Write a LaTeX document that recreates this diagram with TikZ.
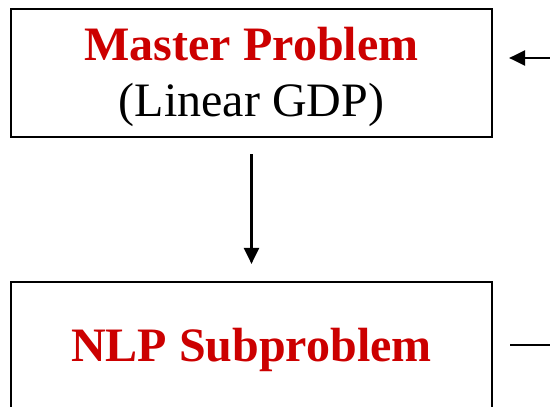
\documentclass[tikz,border=0pt]{standalone}
\usepackage{fontspec}
\setmainfont{Liberation Serif}
\usepackage{xcolor}
\usepackage{tikz}
\usetikzlibrary{arrows.meta, positioning, calc}
\definecolor{mydark}{RGB}{0,0,0}
\definecolor{myred}{RGB}{204,0,0}
\tikzset{
  block/.style={rectangle, draw=mydark, fill=white,
    minimum width=481pt, minimum height=128pt, line width=2.2pt, inner sep=0pt},
  blocktext/.style={align=center, font=\fontsize{48}{56}\selectfont, yshift=-4pt},
  arrow/.style={-{Triangle[length=16pt,width=15pt]}, line width=2.2pt, color=mydark},
  line/.style={line width=2.2pt, color=mydark}
}

\begin{document}
\begin{tikzpicture}[x=1pt, y=1pt]
    \useasboundingbox (0,0) rectangle (550,407);
    \clip (0,0) rectangle (550,407);

    % Master problem
    \node[block, label={[blocktext]center:{\bfseries\color{myred}Master Problem}\\(Linear GDP)}] (master) at (251.5,334) {};

    % Subproblem
    \node[block, label={[blocktext]center:{\bfseries\color{myred}NLP Subproblem}}] (nlp) at (251.5,61) {};

    % Flow
    \draw[arrow, shorten <=16pt, shorten >=17pt] (master) -- (nlp);
    \coordinate (fb) at (550,349);
    \coordinate (out) at (550,62);
    \draw[arrow, shorten >=16pt] (fb) -- (fb -| master.east);
    \draw[line, shorten <=17pt] (nlp.east |- out) -- (out);
  \end{tikzpicture}
\end{document}
